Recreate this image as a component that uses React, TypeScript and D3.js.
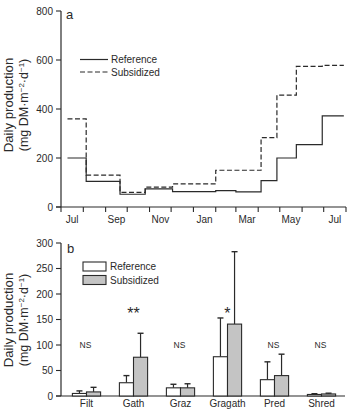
import React from "react";
import * as d3 from "d3";

// ---------- Panel a: seasonal daily production (step series) ----------
const stepDates = [
  "2000-07-10", "2000-08-05", "2000-09-21", "2000-10-26", "2000-12-03", "2001-02-01",
  "2001-03-01", "2001-04-05", "2001-04-27", "2001-05-24", "2001-06-29", "2001-07-29",
];
const referenceDaily = [200, 105, 52, 74, 63, 67, 62, 108, 200, 255, 372];
const subsidizedDaily = [360, 130, 60, 81, 94, 150, 150, 283, 457, 574, 578];
const monthLabels = ["Jul", "Sep", "Nov", "Jan", "Mar", "May", "Jul"];
const yTicksA = [0, 200, 400, 600, 800];

// ---------- Panel b: production by functional group ----------
const groups = ["Filt", "Gath", "Graz", "Gragath", "Pred", "Shred"];
const refMean = [5, 26, 16, 77, 32, 3];
const refUpper = [10, 40, 23, 153, 67, 4.5];
const subMean = [8, 76, 16, 141, 40, 4];
const subUpper = [17, 123, 24, 283, 82, 5.5];
const signif = ["NS", "**", "NS", "*", "NS", "NS"];
const yTicksB = [0, 50, 100, 150, 200, 250, 300];
const seriesNames = ["Reference", "Subsidized"];

const FONT = "'Liberation Sans', Arial, Helvetica, sans-serif";
const INK = "#2a2a2a";
const GREY = "#c4c4c4";

function YTitle({ cx, cy }: { cx: number; cy: number }) {
  return (
    <g transform={`translate(${cx},${cy}) rotate(-90)`} fill={INK} textAnchor="middle">
      <text x={0} y={0} fontSize={13.2}>Daily production</text>
      <text x={0} y={15} fontSize={12.5}>
        (mg DM·m<tspan dy={-4.5} fontSize={8}>−2</tspan>
        <tspan dy={4.5}>·d</tspan>
        <tspan dy={-4.5} fontSize={8}>−1</tspan>
        <tspan dy={4.5}>)</tspan>
      </text>
    </g>
  );
}

export default function App() {
  const parse = d3.timeParse("%Y-%m-%d");
  const dates = stepDates.map((s) => parse(s) as Date);

  // ----- panel a scales -----
  const start = new Date(2000, 6, 1);
  const end = new Date(2001, 7, 1);
  const xA = d3.scaleTime().domain([start, end]).range([61, 346]);
  const yA = d3.scaleLinear().domain([0, 800]).range([207, 11]);
  const monthTicks = d3.timeMonth.range(start, d3.timeDay.offset(end, 1));

  const stepLine = (vals: number[]) => {
    const pts: [Date, number][] = vals.map((v, i) => [dates[i], v]);
    pts.push([dates[dates.length - 1], vals[vals.length - 1]]);
    return d3
      .line<[Date, number]>()
      .x((d) => xA(d[0]))
      .y((d) => yA(d[1]))
      .curve(d3.curveStepAfter)(pts) as string;
  };

  const labelPos = monthLabels.map((_, i) => {
    const m0 = d3.timeMonth.offset(start, i * 2);
    const m1 = d3.timeMonth.offset(start, i * 2 + 1);
    return (xA(m0) + xA(m1)) / 2;
  });

  // ----- panel b scales -----
  const xB = d3.scaleBand<string>().domain(groups).range([63, 345]).paddingInner(0.4).paddingOuter(0.2);
  const xSub = d3.scaleBand<string>().domain(seriesNames).range([0, xB.bandwidth()]);
  const yB = d3.scaleLinear().domain([0, 300]).range([396, 243]);
  const means = [refMean, subMean];
  const uppers = [refUpper, subUpper];
  const fills = ["#ffffff", GREY];

  return (
    <svg
      width={350}
      height={415}
      style={{ position: "fixed", left: 0, top: 0, background: "#fff" }}
      fontFamily={FONT}
    >
      {/* ================= Panel a ================= */}
      <g>
        <line x1={61} x2={61} y1={yA(800)} y2={yA(0)} stroke={INK} strokeWidth={1.2} />
        {yTicksA.map((t) => (
          <g key={t} transform={`translate(0,${yA(t)})`}>
            <line x1={56} x2={61} stroke={INK} strokeWidth={1.1} />
            <text x={53} dy="0.35em" textAnchor="end" fontSize={10} fill={INK}>
              {t}
            </text>
          </g>
        ))}
        <line x1={56} x2={346} y1={yA(0)} y2={yA(0)} stroke={INK} strokeWidth={1.2} />
        {monthTicks.map((d, i) => (
          <line key={i} x1={xA(d)} x2={xA(d)} y1={yA(0)} y2={yA(0) + 5} stroke={INK} strokeWidth={1.1} />
        ))}
        {monthLabels.map((m, i) => (
          <text key={i} x={labelPos[i]} y={223} textAnchor="middle" fontSize={10} fill={INK}>
            {m}
          </text>
        ))}
        <path d={stepLine(referenceDaily)} fill="none" stroke={INK} strokeWidth={1.2} />
        <path d={stepLine(subsidizedDaily)} fill="none" stroke={INK} strokeWidth={1.2} strokeDasharray="5,2.5" />
        <line x1={80} x2={108} y1={59.5} y2={59.5} stroke={INK} strokeWidth={1.2} />
        <text x={111} y={59.5} dy="0.35em" fontSize={10} fill={INK}>Reference</text>
        <line x1={80} x2={108} y1={72} y2={72} stroke={INK} strokeWidth={1.2} strokeDasharray="5,2.5" />
        <text x={111} y={72} dy="0.35em" fontSize={10} fill={INK}>Subsidized</text>
        <text x={66} y={19} fontSize={13} fill={INK}>a</text>
        <YTitle cx={13} cy={105} />
      </g>

      {/* ================= Panel b ================= */}
      <g>
        <line x1={61} x2={61} y1={yB(300)} y2={yB(0)} stroke={INK} strokeWidth={1.2} />
        {yTicksB.map((t) => (
          <g key={t} transform={`translate(0,${yB(t)})`}>
            <line x1={56} x2={61} stroke={INK} strokeWidth={1.1} />
            <text x={53} dy="0.35em" textAnchor="end" fontSize={10} fill={INK}>
              {t}
            </text>
          </g>
        ))}
        <line x1={56} x2={345} y1={yB(0)} y2={yB(0)} stroke={INK} strokeWidth={1.2} />
        {groups.map((g, gi) => (
          <g key={g} transform={`translate(${xB(g)},0)`}>
            {seriesNames.map((s, si) => {
              const x0 = xSub(s) as number;
              const w = xSub.bandwidth();
              const cx = x0 + w / 2;
              return (
                <g key={s}>
                  <line x1={cx} x2={cx} y1={yB(means[si][gi])} y2={yB(uppers[si][gi])} stroke={INK} strokeWidth={1.2} />
                  <line x1={cx - 3} x2={cx + 3} y1={yB(uppers[si][gi])} y2={yB(uppers[si][gi])} stroke={INK} strokeWidth={1.4} />
                  <rect
                    x={x0}
                    y={yB(means[si][gi])}
                    width={w}
                    height={yB(0) - yB(means[si][gi])}
                    fill={fills[si]}
                    stroke={INK}
                    strokeWidth={1.1}
                  />
                </g>
              );
            })}
            <text x={xB.bandwidth() / 2} y={403} dy="0.35em" textAnchor="middle" fontSize={10} fill={INK}>
              {g}
            </text>
            {signif[gi] === "NS" ? (
              <text x={xB.bandwidth() / 2 - 1} y={345} dy="0.35em" textAnchor="middle" fontSize={8.5} fill={INK}>
                NS
              </text>
            ) : (
              <text x={xB.bandwidth() / 2} y={319} textAnchor="middle" fontSize={16} fill={INK}>
                {signif[gi]}
              </text>
            )}
          </g>
        ))}
        {seriesNames.map((s, i) => (
          <g key={s} transform={`translate(0,${262 + i * 13.5})`}>
            <rect x={83} y={0} width={23} height={9} fill={fills[i]} stroke={INK} strokeWidth={1.1} />
            <text x={110} y={4.5} dy="0.35em" fontSize={10} fill={INK}>
              {s}
            </text>
          </g>
        ))}
        <text x={67} y={253} fontSize={13} fill={INK}>b</text>
        <YTitle cx={13} cy={320} />
      </g>
    </svg>
  );
}
